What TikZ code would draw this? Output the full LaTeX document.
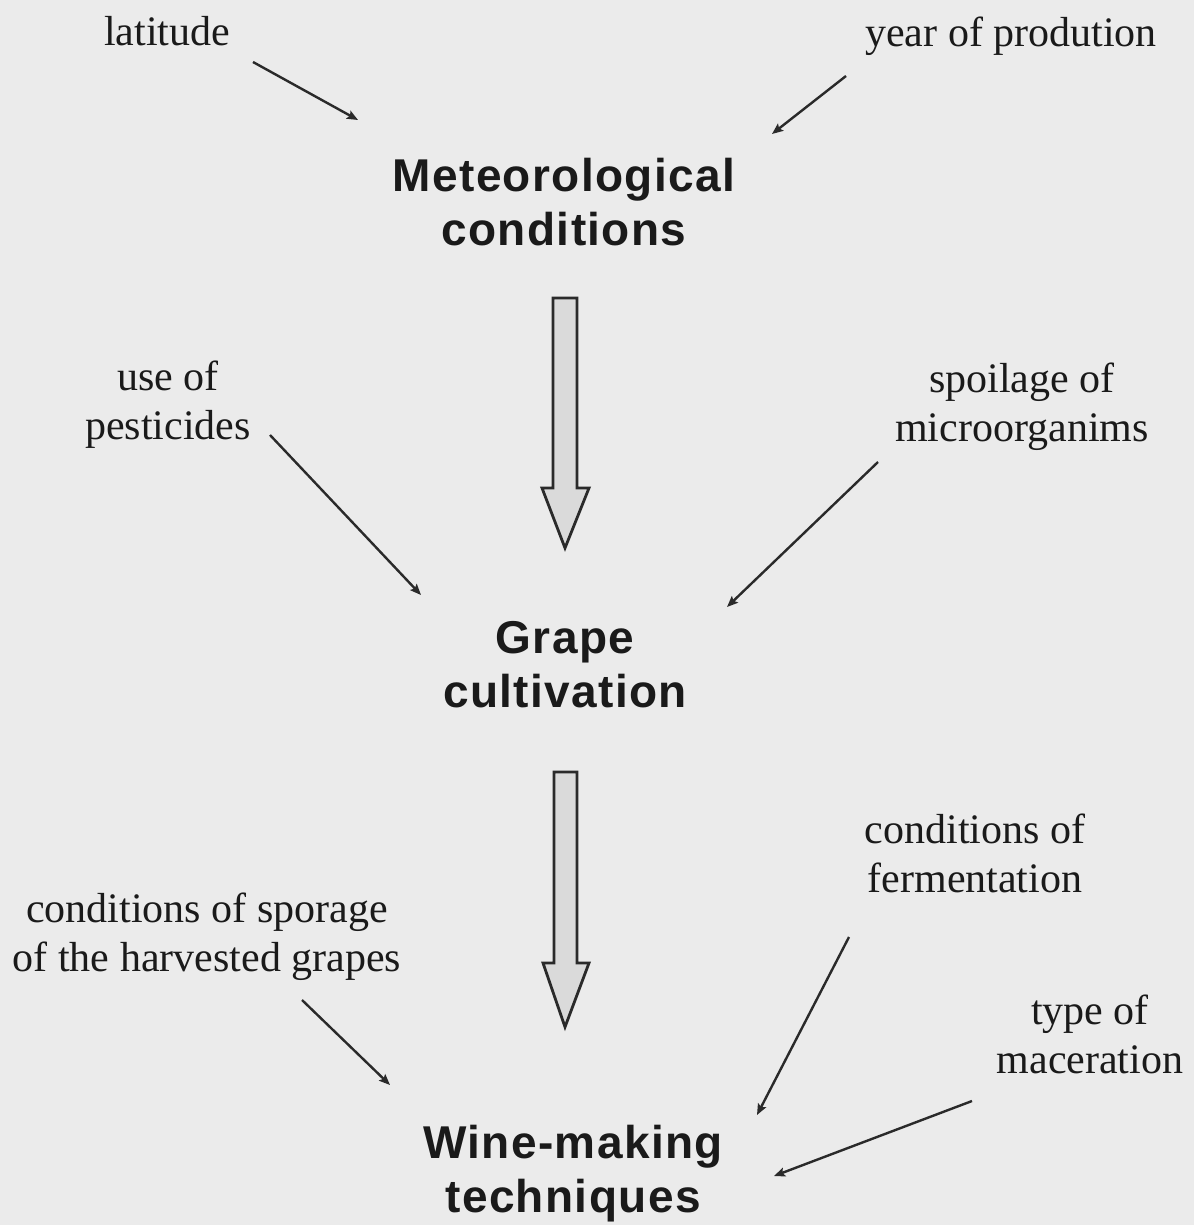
\documentclass[tikz,border=0pt]{standalone}
\usepackage{fontspec}
\setmainfont{Liberation Serif}
\newfontfamily\headfont[LetterSpace=3]{Liberation Sans}
\usetikzlibrary{arrows.meta}
\definecolor{bgc}{HTML}{EBEBEB}
\definecolor{txtc}{HTML}{1A1A1A}
\definecolor{linec}{HTML}{2A2A2A}
\definecolor{bigfill}{HTML}{DADADA}
\tikzset{
  factor/.style={text=txtc, align=center, inner sep=0pt,
    font=\fontsize{42}{49}\selectfont},
  stage/.style={text=txtc, align=center, inner sep=0pt,
    font=\headfont\bfseries\fontsize{46}{54}\selectfont},
  infl/.style={draw=linec, line width=2.4pt, -{Stealth[length=11pt,width=9pt,inset=2pt]}},
  bigarrow/.style={draw=linec, fill=bigfill, line width=2.8pt, line join=miter}
}
\begin{document}
\begin{tikzpicture}[x=1pt,y=-1pt]
\useasboundingbox[fill=bgc] (0,0) rectangle (1194,1225);

% main stages
\node[stage] (met) at (564,202.5) {Meteorological\\conditions};
\node[stage] (grape) at (565,665) {Grape\\cultivation};
\node[stage] (wine) at (573,1174) {Wine-making\\techniques};

% factors
\node[factor, anchor=base] (lat) at (167,46) {latitude};
\node[factor, anchor=base] (year) at (1011,47) {year of prodution};
\node[factor] (pest) at (168,404.5) {use of\\pesticides};
\node[factor] (spoil) at (1022,407) {spoilage of\\microorganims};
\node[factor] (ferm) at (975,853.5) {conditions of\\fermentation};
\node[factor] (stor) at (207,937) {conditions of sporage\\of the harvested grapes};
\node[factor] (mac) at (1090,1034.5) {type of\\maceration};

% connector end points
\coordinate (lat-s) at (253,62);   \coordinate (lat-e) at (358,120);
\coordinate (year-s) at (846,76);  \coordinate (year-e) at (772,134);
\coordinate (pest-s) at (270,435); \coordinate (pest-e) at (421,595);
\coordinate (spoil-s) at (878,462);\coordinate (spoil-e) at (727,607);
\coordinate (stor-s) at (302,1000);\coordinate (stor-e) at (390,1085);
\coordinate (ferm-s) at (849,937); \coordinate (ferm-e) at (757,1115);
\coordinate (mac-s) at (972,1101); \coordinate (mac-e) at (774,1176);

\draw[infl] (lat-s) -- (lat-e);
\draw[infl] (year-s) -- (year-e);
\draw[infl] (pest-s) -- (pest-e);
\draw[infl] (spoil-s) -- (spoil-e);
\draw[infl] (stor-s) -- (stor-e);
\draw[infl] (ferm-s) -- (ferm-e);
\draw[infl] (mac-s) -- (mac-e);

% big block arrows
\draw[bigarrow] (553,298) -- (577,298) -- (577,488) -- (589,488) -- (565,548)
  -- (542,488) -- (553,488) -- cycle;
\draw[bigarrow] (554,772) -- (577,772) -- (577,963) -- (589,963) -- (565,1027)
  -- (543,963) -- (554,963) -- cycle;
\end{tikzpicture}
\end{document}
